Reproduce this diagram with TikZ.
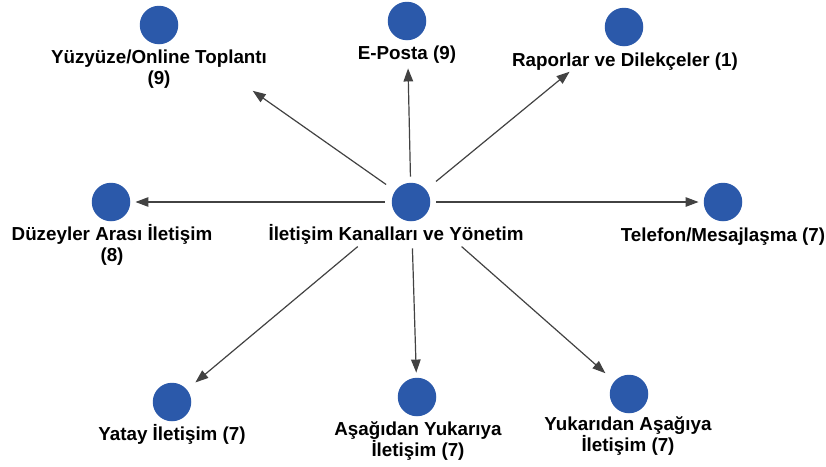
\documentclass[tikz,border=0pt]{standalone}
\usepackage{fontspec}
\setmainfont{Liberation Sans}
\usetikzlibrary{arrows.meta}
\definecolor{dotblue}{RGB}{43,89,170}
\definecolor{linkgray}{RGB}{66,66,66}
\begin{document}
\begin{tikzpicture}[x=1pt,y=-1pt,
  dot/.style={circle,fill=dotblue,minimum size=38.5pt,inner sep=0pt},
  lbl/.style={font=\bfseries\fontsize{18.8}{20.5}\selectfont,inner sep=0pt,align=center,anchor=base},
  link/.style={draw=linkgray,line width=1.2pt,-{Triangle[length=13pt,width=9.5pt]}}]
\useasboundingbox (0,0) rectangle (826,466);

% hub (label anchors sit on the baseline of the last text line)
\node[dot] (c0) at (411,202) {};
\node[lbl] (l0) at (396,240) {İletişim Kanalları ve Yönetim};

% channels
\node[dot] (c1) at (159,25) {};
\node[lbl] (l1) at (159,84) {Yüzyüze/Online Toplantı\\(9)};
\node[dot] (c2) at (407,21) {};
\node[lbl] (l2) at (407,59) {E-Posta (9)};
\node[dot] (c3) at (624,27) {};
\node[lbl] (l3) at (625,66) {Raporlar ve Dilekçeler (1)};
\node[dot] (c4) at (723,202) {};
\node[lbl] (l4) at (723,241) {Telefon/Mesajlaşma (7)};
\node[dot] (c5) at (111,202) {};
\node[lbl] (l5) at (112,261) {Düzeyler Arası İletişim\\(8)};
\node[dot] (c6) at (172,402) {};
\node[lbl] (l6) at (172,440) {Yatay İletişim (7)};
\node[dot] (c7) at (417,397) {};
\node[lbl] (l7) at (418,456) {Aşağıdan Yukarıya\\İletişim (7)};
\node[dot] (c8) at (629,394) {};
\node[lbl] (l8) at (628,451) {Yukarıdan Aşağıya\\İletişim (7)};

% links from the hub
\draw[link,shorten <=11pt,shorten >=95pt] (c0) -- (c1);
\draw[link,shorten <=6pt,shorten >=28pt] (c0) -- (c2);
\draw[link,shorten <=13pt,shorten >=51pt] (c0) -- (c3);
\draw[link,shorten <=6pt,shorten >=5pt] (c0) -- (c4);
\draw[link,shorten <=7pt,shorten >=5pt] (c0) -- (c5);
\draw[link,shorten <=50pt,shorten >=11pt] (c0) -- (c6);
\draw[link,shorten <=27pt,shorten >=5pt] (c0) -- (c7);
\draw[link,shorten <=48pt,shorten >=12pt] (c0) -- (c8);
\end{tikzpicture}
\end{document}
